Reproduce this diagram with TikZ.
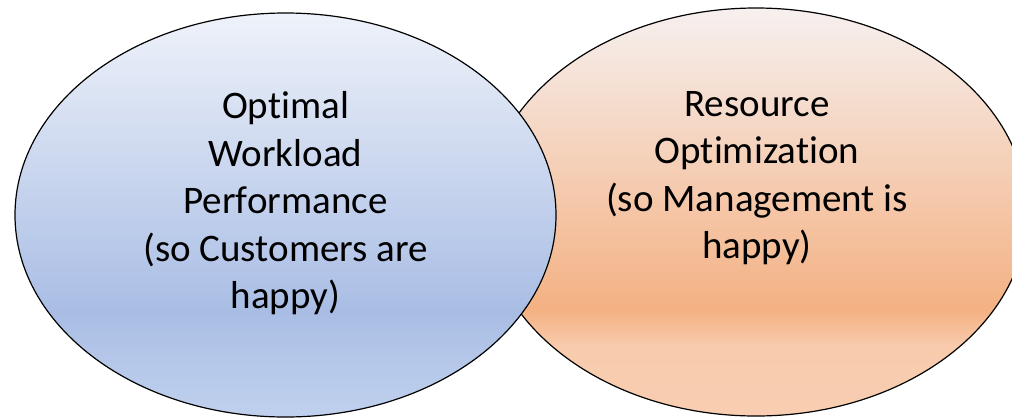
\documentclass[tikz,border=0pt]{standalone}
\usepackage{fontspec}
\setmainfont{Carlito}[Ligatures={NoCommon}]
\usetikzlibrary{shapes.geometric}
\definecolor{blueTop}{HTML}{EEF2FA}
\definecolor{blueBand}{HTML}{A9BDE4}
\definecolor{blueLow}{HTML}{B2C5E8}
\definecolor{blueBot}{HTML}{C0D1EE}
\definecolor{orangeTop}{HTML}{F6F0EF}
\definecolor{orangeBand}{HTML}{F4B183}
\definecolor{orangeLow}{HTML}{F8CBAD}
\definecolor{orangeBot}{HTML}{F8CDB1}
\pgfdeclareverticalshading{perfshade}{100bp}{color(0bp)=(blueBot); color(25bp)=(blueBot); color(33.5bp)=(blueLow); color(38bp)=(blueBand); color(75bp)=(blueTop); color(100bp)=(blueTop)}
\pgfdeclareverticalshading{resshade}{100bp}{color(0bp)=(orangeBot); color(25bp)=(orangeBot); color(33.5bp)=(orangeLow); color(38bp)=(orangeBand); color(75bp)=(orangeTop); color(100bp)=(orangeTop)}

\begin{document}
\begin{tikzpicture}[x=1bp,y=-1bp,
  bubble/.style={ellipse,draw=black,line width=1.2bp,inner sep=0pt,outer sep=0pt},
  bubbletext/.style={align=center,inner sep=0pt,font=\fontsize{39bp}{47.5bp}\selectfont}]%
\useasboundingbox (0,0) rectangle (1012,419);%
% right bubble first, the left one lies over it
\node[bubble,shading=resshade,minimum width=542bp,minimum height=408bp] (resopt) at (756,212) {};%
\node[bubble,shading=perfshade,minimum width=541bp,minimum height=404bp] (perf) at (285.5,215) {};%
\node[bubbletext] (perftext) at (285.5,203.5) {Optimal\\Workload\\Performance\\(so Customers are\\happy)};%
\node[bubbletext] (restext) at (757,178) {Resource\\Optimization\\(so Management is\\happy)};%
\end{tikzpicture}
\end{document}
